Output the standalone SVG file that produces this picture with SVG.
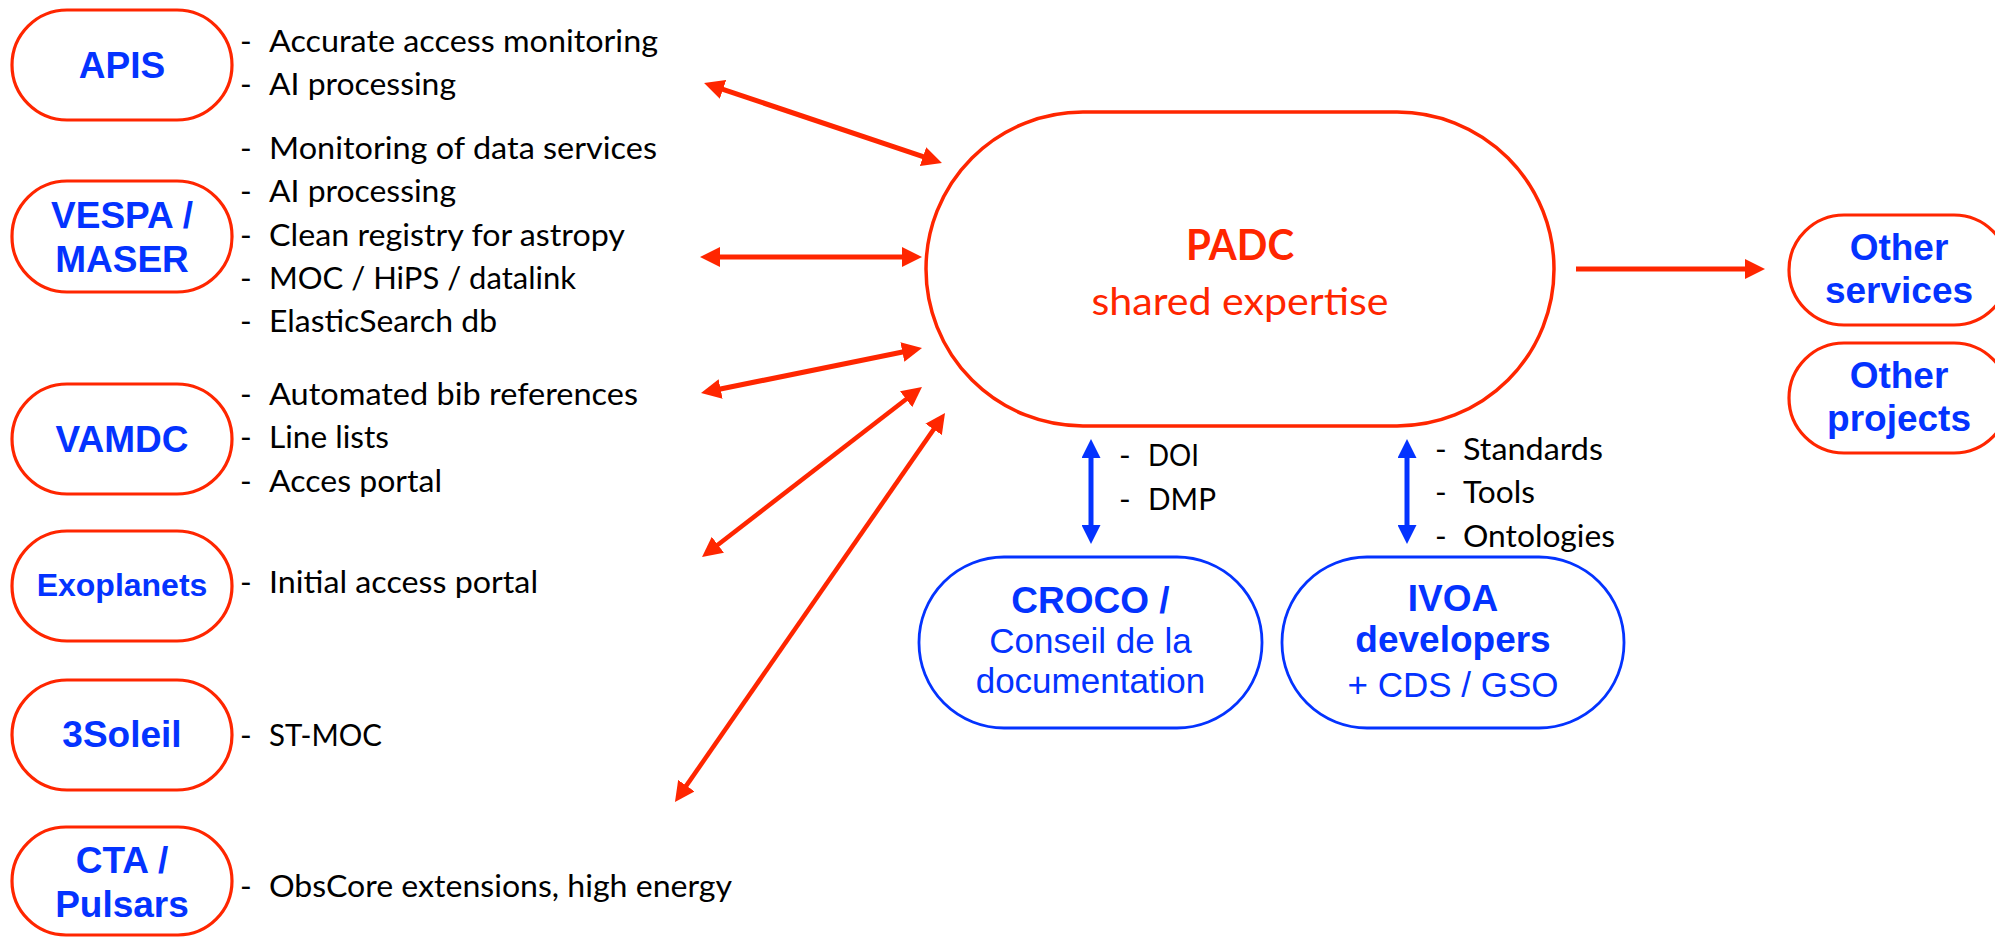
<svg xmlns="http://www.w3.org/2000/svg" width="1995" height="937" viewBox="0 0 1995 937">
<style>
.pr{fill:#fff;stroke:#FF2600;stroke-width:3.2}
.pb{fill:#fff;stroke:#0433FF;stroke-width:2.8}
.lb{font-family:"Liberation Sans",Arial,sans-serif;font-weight:bold;font-size:37px;fill:#0433FF;text-anchor:middle}
.lr{font-family:"Liberation Sans",Arial,sans-serif;font-size:35px;fill:#0433FF;text-anchor:middle}
.t{font-family:Lato,"Liberation Sans",sans-serif;font-size:31.5px;fill:#000}
.d{font-family:Lato,"Liberation Sans",sans-serif;font-size:31.5px;fill:#000}
.ar{fill:none;stroke:#FF2600;stroke-width:5}
.ab{fill:none;stroke:#0433FF;stroke-width:5}
</style>
<defs>
<marker id="ahR" markerUnits="userSpaceOnUse" markerWidth="20" markerHeight="20" viewBox="0 0 20 20" refX="4" refY="10" orient="auto-start-reverse"><path d="M0,0 L20,10 L0,20 z" fill="#FF2600"/></marker>
<marker id="ahB" markerUnits="userSpaceOnUse" markerWidth="19" markerHeight="19" viewBox="0 0 19 19" refX="3" refY="9.5" orient="auto-start-reverse"><path d="M0,0 L19,9.5 L0,19 z" fill="#0433FF"/></marker>
</defs>
<rect width="1995" height="937" fill="#fff"/>

<g id="connectors">
<path class="ar" d="M719.2,88.1 L926.8,157.9" marker-start="url(#ahR)" marker-end="url(#ahR)"/>
<path class="ar" d="M716,257 L906,257" marker-start="url(#ahR)" marker-end="url(#ahR)"/>
<path class="ar" d="M716.7,389.8 L906.3,351.2" marker-start="url(#ahR)" marker-end="url(#ahR)"/>
<path class="ar" style="stroke-width:4.5" d="M714.7,547.2 L909.3,396.8" marker-start="url(#ahR)" marker-end="url(#ahR)"/>
<path class="ar" style="stroke-width:4.5" d="M684.1,788.9 L935.9,426.1" marker-start="url(#ahR)" marker-end="url(#ahR)"/>
<path class="ar" d="M1576,269 L1749,269" marker-end="url(#ahR)"/>
<path class="ab" d="M1091,455 L1091,528" marker-start="url(#ahB)" marker-end="url(#ahB)"/>
<path class="ab" d="M1407,455 L1407,528" marker-start="url(#ahB)" marker-end="url(#ahB)"/>
</g>

<g id="apis">
<rect class="pr" x="12" y="10" width="220" height="110" rx="55" ry="55"/>
<text class="lb" x="122" y="78">APIS</text>
<text class="d" x="240" y="52">-</text><text class="t" x="269" y="52" textLength="389" lengthAdjust="spacingAndGlyphs">Accurate access monitoring</text>
<text class="d" x="240" y="95">-</text><text class="t" x="269" y="95" textLength="187" lengthAdjust="spacingAndGlyphs">AI processing</text>
</g>

<g id="vespa">
<rect class="pr" x="12" y="181" width="220" height="111" rx="55" ry="55"/>
<text class="lb" x="122" y="228">VESPA /</text>
<text class="lb" x="122" y="272">MASER</text>
<text class="d" x="240" y="159">-</text><text class="t" x="269" y="159" textLength="388" lengthAdjust="spacingAndGlyphs">Monitoring of data services</text>
<text class="d" x="240" y="202">-</text><text class="t" x="269" y="202" textLength="187" lengthAdjust="spacingAndGlyphs">AI processing</text>
<text class="d" x="240" y="246">-</text><text class="t" x="269" y="246" textLength="356" lengthAdjust="spacingAndGlyphs">Clean registry for astropy</text>
<text class="d" x="240" y="289">-</text><text class="t" x="269" y="289" textLength="307" lengthAdjust="spacingAndGlyphs">MOC / HiPS / datalink</text>
<text class="d" x="240" y="332">-</text><text class="t" x="269" y="332" textLength="228" lengthAdjust="spacingAndGlyphs">ElasticSearch db</text>
</g>

<g id="vamdc">
<rect class="pr" x="12" y="384" width="220" height="110" rx="55" ry="55"/>
<text class="lb" x="122" y="452">VAMDC</text>
<text class="d" x="240" y="405">-</text><text class="t" x="269" y="405" textLength="369" lengthAdjust="spacingAndGlyphs">Automated bib references</text>
<text class="d" x="240" y="448">-</text><text class="t" x="269" y="448" textLength="120" lengthAdjust="spacingAndGlyphs">Line lists</text>
<text class="d" x="240" y="492">-</text><text class="t" x="269" y="492" textLength="173" lengthAdjust="spacingAndGlyphs">Acces portal</text>
</g>

<g id="exoplanets">
<rect class="pr" x="12" y="531" width="220" height="110" rx="55" ry="55"/>
<text class="lb" style="font-size:32px" x="122" y="596">Exoplanets</text>
<text class="d" x="240" y="593">-</text><text class="t" x="269" y="593" textLength="269" lengthAdjust="spacingAndGlyphs">Initial access portal</text>
</g>

<g id="soleil">
<rect class="pr" x="12" y="680" width="220" height="110" rx="55" ry="55"/>
<text class="lb" x="122" y="747">3Soleil</text>
<text class="d" x="240" y="746">-</text><text class="t" x="269" y="746" textLength="113" lengthAdjust="spacingAndGlyphs">ST-MOC</text>
</g>

<g id="cta">
<rect class="pr" x="12" y="827" width="220" height="108" rx="54" ry="54"/>
<text class="lb" x="122" y="873">CTA /</text>
<text class="lb" x="122" y="917">Pulsars</text>
<text class="d" x="240" y="897">-</text><text class="t" x="269" y="897" textLength="463" lengthAdjust="spacingAndGlyphs">ObsCore extensions, high energy</text>
</g>

<g id="padc">
<rect class="pr" style="stroke-width:3.5" x="926" y="112" width="628" height="314" rx="157" ry="157"/>
<text x="1240" y="260" text-anchor="middle" font-family="Lato,'Liberation Sans',sans-serif" font-weight="bold" font-size="42" fill="#FF2600" textLength="108" lengthAdjust="spacingAndGlyphs">PADC</text>
<text x="1240" y="315" text-anchor="middle" font-family="Lato,'Liberation Sans',sans-serif" font-size="39.5" fill="#FF2600" textLength="297" lengthAdjust="spacingAndGlyphs">shared expertise</text>
</g>

<g id="other-services">
<rect class="pr" x="1789" y="215" width="220" height="110" rx="55" ry="55"/>
<text class="lb" x="1899" y="260">Other</text>
<text class="lb" x="1899" y="303">services</text>
</g>

<g id="other-projects">
<rect class="pr" x="1789" y="343" width="220" height="110" rx="55" ry="55"/>
<text class="lb" x="1899" y="388">Other</text>
<text class="lb" x="1899" y="431">projects</text>
</g>

<g id="croco">
<rect class="pb" x="919" y="557" width="343" height="171" rx="85" ry="85"/>
<text class="lb" x="1090.5" y="613">CROCO /</text>
<text class="lr" x="1090.5" y="653">Conseil de la</text>
<text class="lr" x="1090.5" y="693">documentation</text>
<text class="d" x="1119" y="466">-</text><text class="t" x="1148" y="466" textLength="51" lengthAdjust="spacingAndGlyphs">DOI</text>
<text class="d" x="1119" y="510">-</text><text class="t" x="1148" y="510" textLength="68" lengthAdjust="spacingAndGlyphs">DMP</text>
</g>

<g id="ivoa">
<rect class="pb" x="1282" y="557" width="342" height="171" rx="85" ry="85"/>
<text class="lb" x="1453" y="611">IVOA</text>
<text class="lb" x="1453" y="652">developers</text>
<text class="lr" x="1453" y="697">+ CDS / GSO</text>
<text class="d" x="1435" y="460">-</text><text class="t" x="1463" y="460" textLength="140" lengthAdjust="spacingAndGlyphs">Standards</text>
<text class="d" x="1435" y="503">-</text><text class="t" x="1463" y="503" textLength="72" lengthAdjust="spacingAndGlyphs">Tools</text>
<text class="d" x="1435" y="547">-</text><text class="t" x="1463" y="547" textLength="152" lengthAdjust="spacingAndGlyphs">Ontologies</text>
</g>
</svg>
